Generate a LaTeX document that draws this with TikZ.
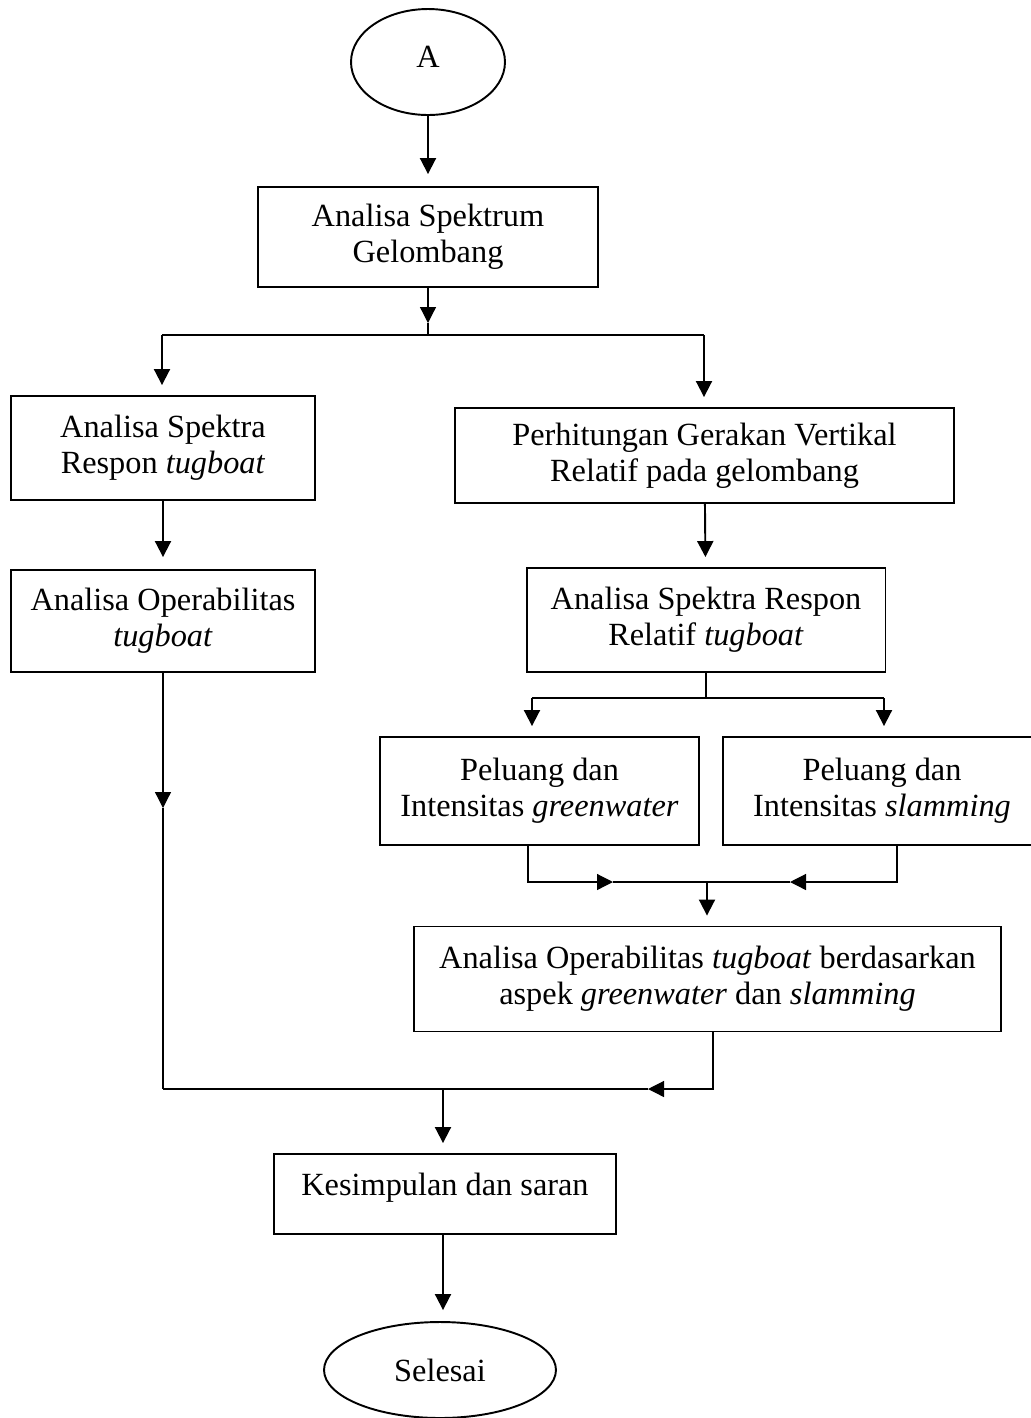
\documentclass[tikz,border=0pt]{standalone}
\usepackage{fontspec}
\setmainfont{Liberation Serif}
\usetikzlibrary{arrows.meta,shapes.geometric}

\begin{document}
\begin{tikzpicture}[
  x=0.02cm, y=-0.02cm,
  every node/.style={font=\fontsize{18.4}{20.5}\selectfont},
  box/.style={rectangle, draw=black, line width=1.1pt, align=center, inner sep=2pt},
  oval/.style={ellipse, draw=black, line width=1.1pt, align=center, inner sep=0pt},
  line/.style={draw=black, line width=0.7pt},
  arrow/.style={draw=black, line width=1.1pt, -{Triangle[width=0.32cm, length=0.32cm]}, shorten >=0.2cm},
  midarrow/.style={draw=black, line width=0.7pt, -{Triangle[width=0.32cm, length=0.32cm]}}
]
\useasboundingbox (0,0) rectangle (1031,1418);

% start and first analysis
\node[oval, minimum width=3.08cm, minimum height=2.12cm, text depth=0.2cm] (start) at (428,62) {A};
\node[box, minimum width=6.8cm, minimum height=2.0cm] (spektrum) at (428,237) {Analisa Spektrum\\Gelombang};

% two branches
\node[box, minimum width=6.08cm, minimum height=2.08cm] (responL) at (163,448) {Analisa Spektra\\Respon \textit{tugboat}};
\node[box, minimum width=9.98cm, minimum height=1.9cm] (vertikal) at (704.5,455.5) {Perhitungan Gerakan Vertikal\\Relatif pada gelombang};
\node[box, minimum width=6.08cm, minimum height=2.04cm] (operL) at (163,621) {Analisa Operabilitas\\\textit{tugboat}};
\node[box, minimum width=7.18cm, minimum height=2.08cm] (relatif) at (706,620) {Analisa Spektra Respon\\Relatif \textit{tugboat}};
\node[box, minimum width=6.38cm, minimum height=2.16cm] (green) at (539.5,791) {Peluang dan\\Intensitas \textit{greenwater}};
\node[box, minimum width=6.36cm, minimum height=2.16cm] (slam) at (882,791) {Peluang dan\\Intensitas \textit{slamming}};
\node[box, minimum width=11.74cm, minimum height=2.1cm] (operGS) at (707.5,979) {Analisa Operabilitas \textit{tugboat} berdasarkan\\aspek \textit{greenwater} dan \textit{slamming}};

% end
\node[box, minimum width=6.84cm, minimum height=1.6cm, text depth=0.4cm] (kesimpulan) at (445,1194) {Kesimpulan dan saran};
\node[oval, minimum width=4.64cm, minimum height=1.92cm] (selesai) at (440,1370) {Selesai};

% junction points
\coordinate (tipA) at (428,323);
\coordinate (splitC) at (428,335);
\coordinate (splitL) at (162,335);
\coordinate (splitR) at (704,335);
\coordinate (splitB) at (706,698);
\coordinate (splitGL) at (532,698);
\coordinate (splitGR) at (884,698);
\coordinate (mergeL) at (528,882);
\coordinate (mergeR) at (897,882);
\coordinate (mergeC) at (707,882);
\coordinate (tipGR) at (613,882);
\coordinate (tipSL) at (790,882);
\coordinate (joinR) at (713,1089);
\coordinate (joinL) at (163,1089);
\coordinate (joinC) at (443,1089);
\coordinate (tipJ) at (648,1089);
\coordinate (tipOL) at (163,808);

\draw[arrow, shorten >=0.24cm] (start) -- (spektrum);
\draw[midarrow] (spektrum.south) -- (tipA);
\draw[line] (tipA) -- (splitC);
\draw[line] (splitL) -- (splitR);
\draw[arrow] (splitL) -- (splitL |- responL.north);
\draw[arrow] (splitR) -- (splitR |- vertikal.north);
\draw[arrow, shorten >=0.24cm] (responL.south) -- (operL.north);
\draw[arrow] (vertikal) -- (relatif);

\draw[line] (relatif.south) -- (splitB);
\draw[line] (splitGL) -- (splitGR);
\draw[arrow] (splitGL) -- (splitGL |- green.north);
\draw[arrow] (splitGR) -- (splitGR |- slam.north);

\draw[midarrow] (mergeL |- green.south) |- (tipGR);
\draw[line] (tipGR) -- (tipSL);
\draw[midarrow] (mergeR |- slam.south) |- (tipSL);
\draw[arrow] (mergeC) -- (mergeC |- operGS.north);

\draw[midarrow] (joinR |- operGS.south) |- (tipJ);
\draw[line] (tipJ) -- (joinL);
\draw[midarrow] (operL.south) -- (tipOL);
\draw[line] (tipOL) -- (joinL);
\draw[arrow] (joinC) -- (joinC |- kesimpulan.north);
\draw[arrow, shorten >=0.22cm] (joinC |- kesimpulan.south) -- (joinC |- selesai.north);
\end{tikzpicture}
\end{document}
